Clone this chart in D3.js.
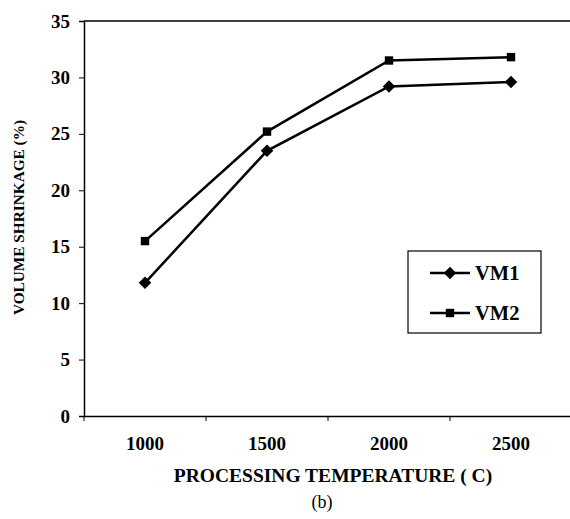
<!DOCTYPE html>
<html>
<head>
<meta charset="utf-8">
<script src="https://cdn.jsdelivr.net/npm/d3@7"></script>
<style>
  body { margin: 0; background: #fff; }
  text { font-family: "Liberation Serif", "Times New Roman", serif; }
</style>
</head>
<body>
<div id="chart"></div>
<script>
// data
const temps = ["1000", "1500", "2000", "2500"];
const vm1 = [11.8, 23.5, 29.2, 29.6];
const vm2 = [15.5, 25.2, 31.5, 31.8];
const yTicks = [0, 5, 10, 15, 20, 25, 30, 35];
const seriesNames = ["VM1", "VM2"];

const margin = {top: 21, right: 0, bottom: 103, left: 84},
    width = 570 - margin.left - margin.right,
    height = 519 - margin.top - margin.bottom;

let svg = d3.select("#chart")
            .append("svg")
            .attr("width", 570)
            .attr("height", 519)
        .append("g")
            .attr("transform", `translate(${margin.left}, ${margin.top})`);

const xScale = d3.scaleBand()
  .domain(temps)
  .range([0, width + 2]);

const yScale = d3.scaleLinear()
  .domain([0, 35])
  .range([height, 0]);

// top border
svg.append("line")
  .attr("x1", 0).attr("x2", width)
  .attr("y1", 0).attr("y2", 0)
  .attr("stroke", "#000").attr("stroke-width", 1.5);

// y axis
const yAxis = svg.append("g")
  .call(d3.axisLeft(yScale).tickValues(yTicks).tickSize(5).tickPadding(9));
yAxis.select(".domain").attr("stroke-width", 1.5);
yAxis.selectAll("text")
  .attr("font-size", 19).attr("font-weight", "bold")
  .attr("font-family", "Liberation Serif");

// x axis with ticks at band edges
const xAxis = svg.append("g")
  .attr("transform", `translate(0,${height})`)
  .call(d3.axisBottom(xScale).tickSize(0).tickPadding(21));
xAxis.select(".domain").attr("stroke-width", 1.5);
xAxis.selectAll("text")
  .attr("font-size", 19).attr("font-weight", "bold")
  .attr("font-family", "Liberation Serif");
svg.append("g")
  .selectAll("line")
  .data(temps)
  .join("line")
  .attr("x1", d => xScale(d)).attr("x2", d => xScale(d))
  .attr("y1", height).attr("y2", height + 5)
  .attr("stroke", "#000");

// axis titles
svg.append("text")
  .attr("x", 249).attr("y", height + 66)
  .attr("text-anchor", "middle")
  .attr("font-size", 19.5).attr("font-weight", "bold")
  .text("PROCESSING TEMPERATURE ( C)");

svg.append("text")
  .attr("x", 238).attr("y", height + 92)
  .attr("text-anchor", "middle")
  .attr("font-size", 18)
  .text("(b)");

svg.append("text")
  .attr("transform", `translate(-60, ${height / 2 - 1}) rotate(-90)`)
  .attr("text-anchor", "middle")
  .attr("font-size", 15.3).attr("font-weight", "bold")
  .text("VOLUME SHRINKAGE (%)");

const cx = d => xScale(d) + xScale.bandwidth() / 2;
const line = d3.line()
  .x(d => cx(d.t))
  .y(d => yScale(d.v));

const series = [vm1, vm2].map((vals, i) => ({
  name: seriesNames[i],
  values: temps.map((t, j) => ({t: t, v: vals[j]}))
}));

const symbols = [d3.symbolDiamond2, d3.symbolSquare2];
const symSize = [100, 90];

series.forEach((s, i) => {
  svg.append("path")
    .datum(s.values)
    .attr("fill", "none")
    .attr("stroke", "#000")
    .attr("stroke-width", 2.5)
    .attr("d", line);
  svg.selectAll(".m" + i)
    .data(s.values)
    .join("path")
    .attr("class", "m" + i)
    .attr("transform", d => `translate(${cx(d.t)},${yScale(d.v)})`)
    .attr("d", d3.symbol().type(symbols[i]).size(symSize[i]))
    .attr("fill", "#000");
});

// legend
const legend = svg.append("g").attr("transform", `translate(${408 - margin.left}, ${251 - margin.top})`);
legend.append("rect")
  .attr("width", 133).attr("height", 82)
  .attr("fill", "#fff").attr("stroke", "#000").attr("stroke-width", 1.2);
series.forEach((s, i) => {
  const g = legend.append("g").attr("transform", `translate(0, ${22 + i * 40})`);
  g.append("line").attr("x1", 22).attr("x2", 62).attr("stroke", "#000").attr("stroke-width", 2.5);
  g.append("path")
    .attr("transform", "translate(42,0)")
    .attr("d", d3.symbol().type(symbols[i]).size(symSize[i]))
    .attr("fill", "#000");
  g.append("text")
    .attr("x", 67).attr("y", 7)
    .attr("font-size", 20.5).attr("font-weight", "bold")
    .text(s.name);
});
</script>
</body>
</html>
